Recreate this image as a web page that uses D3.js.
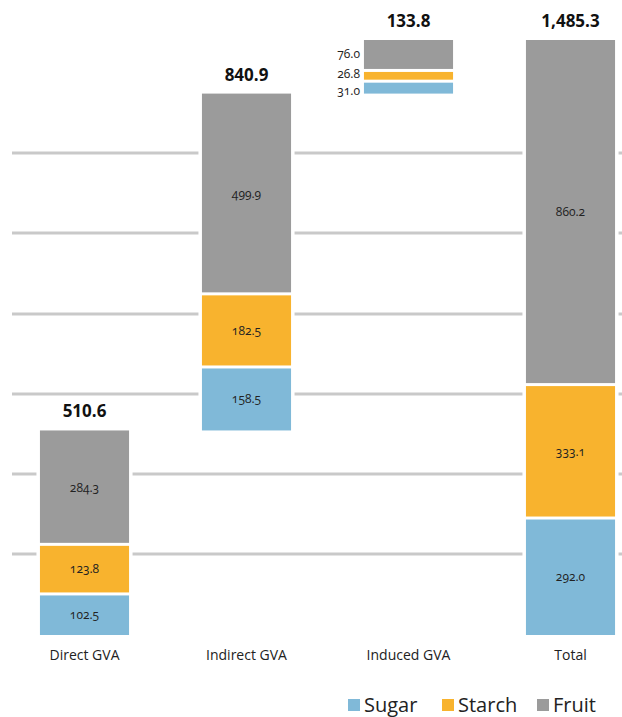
<!DOCTYPE html>
<html>
<head>
<meta charset="utf-8">
<script src="https://cdn.jsdelivr.net/npm/d3@7"></script>
<style>
  body { margin: 0; background: #fff; }
  svg { display: block; font-family: "Open Sans", "DejaVu Sans", sans-serif; }
  .num { font-variant-numeric: oldstyle-nums; }
</style>
</head>
<body>
<script>
// data
var categories = ['Direct GVA', 'Indirect GVA', 'Induced GVA', 'Total'];
var sugar  = [102.5, 158.5, 31.0, 292.0];
var starch = [123.8, 182.5, 26.8, 333.1];
var fruit  = [284.3, 499.9, 76.0, 860.2];
var totals = [510.6, 840.9, 133.8, 1485.3];
var gridValues = [200, 400, 600, 800, 1000, 1200];
var seriesNames = ['Sugar', 'Starch', 'Fruit'];
var colors = ['#80b9d8', '#f8b32e', '#9b9b9b'];

var W = 622, H = 717;

var svg = d3.select('body')
  .append('svg')
  .attr('width', W)
  .attr('height', H);

var x = d3.scaleBand()
  .domain(categories)
  .range([3.5, 651.5])
  .paddingInner(0.45)
  .paddingOuter(0.225);

var y = d3.scaleLinear()
  .domain([0, 1485.3])
  .range([635, 40]);

// waterfall bases: each step starts where the previous ended, total from 0
var bases = [];
var run = 0;
categories.forEach(function(c, i){
  if (i === categories.length - 1) { bases.push(0); }
  else { bases.push(run); run += totals[i]; }
});

// gridlines
svg.append('g')
  .selectAll('line')
  .data(gridValues)
  .enter()
  .append('line')
  .attr('x1', 12)
  .attr('x2', W)
  .attr('y1', d => Math.round(y(d)) - 1)
  .attr('y2', d => Math.round(y(d)) - 1)
  .attr('stroke', '#c9c9c9')
  .attr('stroke-width', 3);

var series = [sugar, starch, fruit];
var gap = 1.5;

var bars = svg.selectAll('g.bar')
  .data(categories)
  .enter()
  .append('g')
  .attr('class', 'bar');

// white halo behind each bar so the gridlines break around it
bars.append('rect')
  .attr('x', d => x(d) - 3.5)
  .attr('width', x.bandwidth() + 7)
  .attr('y', (d, i) => y(bases[i] + totals[i]) - 2)
  .attr('height', (d, i) => y(bases[i]) - y(bases[i] + totals[i]) + 2)
  .attr('fill', '#fff');

var segs = [];
categories.forEach(function(c, i){
  var cum = bases[i];
  series.forEach(function(s, k){
    segs.push({cat: c, idx: i, k: k, v: s[i], lo: cum, hi: cum + s[i]});
    cum += s[i];
  });
});

svg.append('g')
  .selectAll('rect')
  .data(segs)
  .enter()
  .append('rect')
  .attr('x', d => x(d.cat))
  .attr('width', x.bandwidth())
  .attr('y', d => y(d.hi) + (d.k === 2 ? 0 : gap))
  .attr('height', d => y(d.lo) - y(d.hi) - (d.k === 2 ? 0 : gap) - (d.k === 0 ? 0 : gap))
  .attr('fill', d => colors[d.k]);

// the thin induced segments get labels beside the bar, spread a little apart
var sideNudge = [3.5, -2, -1];

svg.append('g')
  .selectAll('text')
  .data(segs)
  .enter()
  .append('text')
  .attr('class', 'num')
  .attr('x', d => d.idx === 2 ? x(d.cat) - 4 : x(d.cat) + x.bandwidth() / 2)
  .attr('y', d => (y(d.lo) + y(d.hi)) / 2 + (d.idx === 2 ? sideNudge[d.k] : 0))
  .attr('dy', '0.35em')
  .attr('text-anchor', d => d.idx === 2 ? 'end' : 'middle')
  .style('font-size', '12px')
  .style('fill', '#222')
  .text(d => d3.format('.1f')(d.v));

// totals above bars
svg.append('g')
  .selectAll('text')
  .data(categories)
  .enter()
  .append('text')
  .attr('x', d => x(d) + x.bandwidth() / 2)
  .attr('y', (d, i) => y(bases[i] + totals[i]) - 13)
  .attr('text-anchor', 'middle')
  .style('font-size', '17px')
  .style('font-weight', 'bold')
  .style('fill', '#111')
  .text((d, i) => d3.format(',.1f')(totals[i]));

// category labels
svg.append('g')
  .selectAll('text')
  .data(categories)
  .enter()
  .append('text')
  .attr('x', d => x(d) + x.bandwidth() / 2)
  .attr('y', 660)
  .attr('text-anchor', 'middle')
  .style('font-size', '14px')
  .style('fill', '#222')
  .text(d => d);

// legend
var legendX = [348, 442, 537];
var legend = svg.append('g')
  .selectAll('g')
  .data(seriesNames)
  .enter()
  .append('g')
  .attr('transform', (d, i) => 'translate(' + legendX[i] + ',699)');

legend.append('rect')
  .attr('width', 12)
  .attr('height', 12)
  .attr('fill', (d, i) => colors[i]);

legend.append('text')
  .attr('x', 16)
  .attr('y', 13)
  .style('font-size', '20px')
  .style('fill', '#222')
  .text(d => d);
</script>
</body>
</html>
